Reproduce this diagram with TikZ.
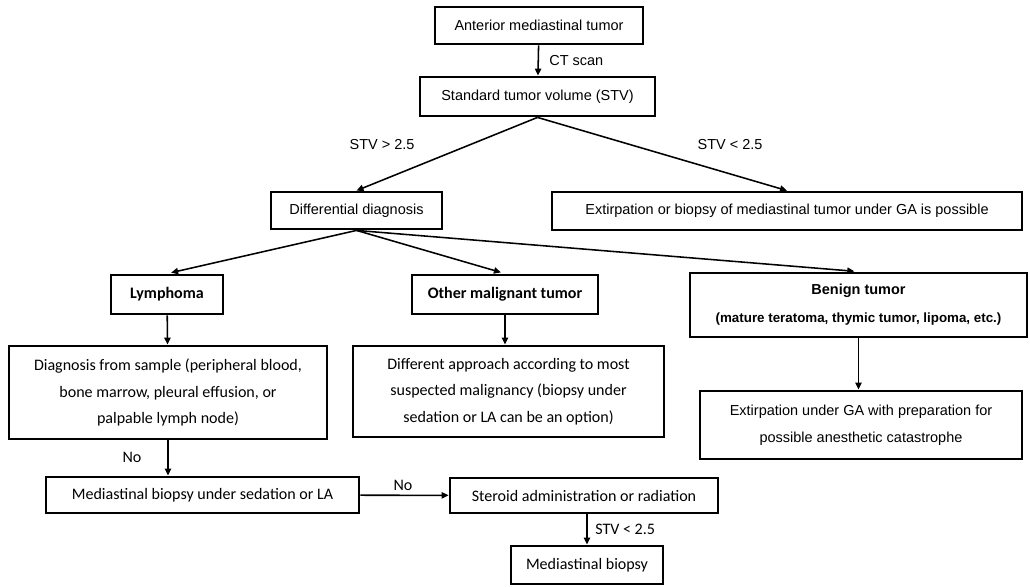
\documentclass[tikz,border=0pt]{standalone}
\usepackage{fontspec}
\setmainfont{Liberation Sans}
\newfontfamily\calfont{Carlito}
\usetikzlibrary{arrows.meta}

\begin{document}
\begin{tikzpicture}[>={Triangle[length=5pt,width=4.5pt]},
    font=\fontsize{10.3}{19}\selectfont,
    box/.style n args={2}{draw, line width=2pt, inner sep=0pt,
                minimum width=#1, minimum height=#2, align=center},
    cal/.style={font=\calfont\fontsize{11.4}{19}\selectfont},
    calb/.style={font=\calfont\bfseries\fontsize{11.4}{19}\selectfont},
    arr/.style={->, line width=1.1pt}]
  \useasboundingbox (0,0) rectangle (25.75,-14.65);
  %% Top
  \node[box={5.2cm}{0.925cm}]   (ant) at (13.475,-0.6375) {Anterior mediastinal tumor};
  \node[box={5.875cm}{0.975cm}] (stv) at (13.4375,-2.4125) {Standard tumor volume (STV)};
  %% Second level
  \node[box={4.275cm}{0.925cm}] (diff) at (8.9125,-5.2625) {Differential diagnosis};
  \node[box={11.75cm}{0.95cm}]  (extp) at (19.675,-5.275)
    {Extirpation or biopsy of mediastinal tumor under GA is possible};
  %% Tumor types
  \node[box={2.8cm}{0.975cm}, calb]  (lymph)  at (4.175,-7.3625) {Lymphoma};
  \node[box={4.65cm}{0.975cm}, calb] (other)  at (12.625,-7.3625) {Other malignant tumor};
  \node[box={8.425cm}{1.6cm}, font=\bfseries\fontsize{10.3}{20}\selectfont] (benign) at (21.4625,-7.625)
    {Benign tumor\\{\fontsize{9.5}{20}\selectfont (mature teratoma, thymic tumor, lipoma, etc.)}};
  %% Management
  \node[box={7.95cm}{2.325cm}, cal]  (diag)    at (4.2,-9.8125)
    {Diagnosis from sample (peripheral blood,\\bone marrow, pleural effusion, or\\palpable lymph node)};
  \node[box={7.775cm}{2.275cm}, cal] (diffapp) at (12.7125,-9.7875)
    {Different approach according to most\\suspected malignancy (biopsy under\\sedation or LA can be an option)};
  \node[box={8.05cm}{1.7cm}]         (extga)   at (21.525,-10.625)
    {Extirpation under GA with preparation for\\possible anesthetic catastrophe};
  %% Bottom
  \node[box={7.825cm}{0.9cm}, cal]  (medsed)  at (5.0625,-12.375) {Mediastinal biopsy under sedation or LA};
  \node[box={6.7cm}{0.875cm}, cal]  (steroid) at (14.6,-12.3875) {Steroid administration or radiation};
  \node[box={3.8cm}{0.95cm}, cal]   (medbx)   at (14.675,-14.125) {Mediastinal biopsy};
  %% Arrows
  \draw[arr] (ant) -- node[right=4pt] (ct) {CT scan} (stv);
  \foreach \n in {diff,extp}
    \draw[arr] (stv.south) -- (\n.north);
  \foreach \n in {lymph,other,benign}
    \draw[arr, shorten >=3pt] (diff.south) -- (\n.north);
  \draw[arr] (lymph) -- (diag);
  \draw[arr] (other.south) -- (other.south |- diffapp.north);
  \draw[arr] (benign.south) -- (benign.south |- extga.north);
  \draw[arr] (diag.south) -- (diag.south |- medsed.north);
  \draw[arr] (medsed) -- (steroid);
  \draw[arr] (steroid.south -| medbx.north) -- node[right=2pt, cal] (stvlow) {STV < 2.5} (medbx.north);
  %% Labels
  \node (stvgt) at (9.55,-3.625)  {STV > 2.5};
  \node (stvlt) at (18.25,-3.625) {STV < 2.5};
  \node[cal] (no1) at (3.3,-11.425)   {No};
  \node[cal] (no2) at (10.075,-12.125) {No};
\end{tikzpicture}
\end{document}
